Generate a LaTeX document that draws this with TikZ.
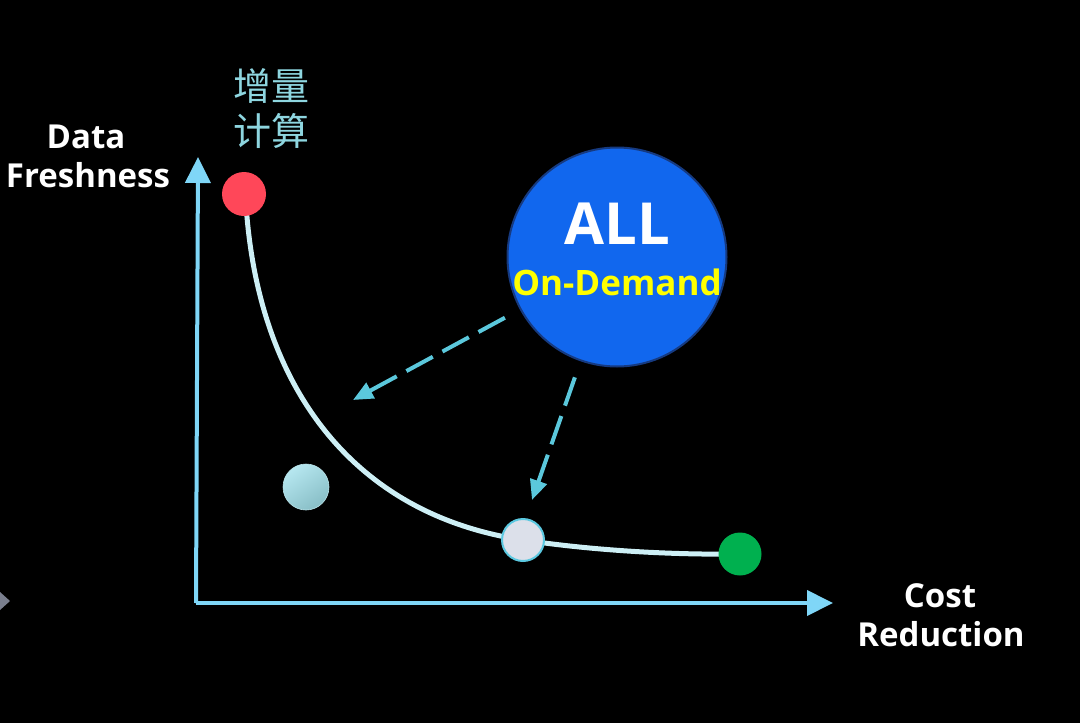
\documentclass[tikz,border=0pt]{standalone}
\usepackage{fontspec}
\setmainfont{Open Sans}
\newfontfamily\cjk{Noto Sans CJK SC}
\usetikzlibrary{arrows.meta}
\definecolor{axiscol}{HTML}{7FD6F7}
\definecolor{dashcol}{HTML}{5BC8DC}
\definecolor{curvecol}{HTML}{CDEFF5}
\definecolor{cjkcol}{HTML}{8ED6E0}
\definecolor{redball}{HTML}{FF4759}
\definecolor{greenball}{HTML}{00B04F}
\definecolor{greyball}{HTML}{DCE0EA}
\definecolor{greyedge}{HTML}{5BC8E0}
\definecolor{bigblue}{HTML}{1167EE}
\definecolor{bigedge}{HTML}{163A80}
\definecolor{ondemand}{HTML}{FFFF00}
\definecolor{tri}{HTML}{7A7F8E}
\definecolor{tealtop}{HTML}{B6E7F0}
\definecolor{tealbot}{HTML}{88BEC6}
\tikzset{
  axisline/.style={draw=axiscol, line width=4pt, -{Triangle[length=26pt,width=25pt]}},
  dasharrow/.style={draw=dashcol, line width=4pt, dash pattern=on 30pt off 11pt, -{Triangle[length=20pt,width=17pt]}},
  curveline/.style={draw=curvecol, line width=5pt},
  ball/.style={circle, inner sep=0pt, minimum size=44pt},
  wlabel/.style={text=white, font=\bfseries\fontsize{33}{40}\selectfont, anchor=base, inner sep=0pt},
  cjklabel/.style={text=cjkcol, font=\cjk\fontsize{38}{44}\selectfont, inner sep=0pt}
}
\begin{document}
\begin{tikzpicture}[x=1pt,y=-1pt]
\fill[black] (0,0) rectangle (1080,723);
\useasboundingbox (0,0) rectangle (1080,723);
% small grey triangle at left edge
\fill[tri] (0,592) -- (10,601) -- (0,610) -- cycle;
% axes
\coordinate (origin) at (198,603);
\coordinate (ytip) at (198,157);
\coordinate (xtip) at (833,603);
\draw[axisline] (196,603) -- (ytip);
\draw[axisline] (196,603) -- (xtip);
% curve positions
\coordinate (pR) at (245,196);
\coordinate (pW) at (523,540);
\coordinate (pG) at (740,554);
\draw[curveline] (pR) -- (247,217) .. controls (262,390) and (355,515) .. (pW) .. controls (593,550.4) and (670,555) .. (pG);
% balls
\node[ball, fill=redball] (red) at (244,194) {};
\node[ball, draw=greyedge, line width=2pt, fill=greyball, minimum size=42pt] (white) at (pW) {};
\node[ball, fill=greenball, minimum size=43pt] (green) at (pG) {};
\node[ball, draw=cjkcol!60!white, line width=0.6pt, top color=tealtop, bottom color=tealbot, shading angle=35, minimum size=46pt] (teal) at (306,487) {};
% big circle
\node[circle, fill=bigblue, draw=bigedge, line width=2pt, minimum size=219pt, inner sep=0pt] (big) at (617,257) {};
\node[text=white, font=\bfseries\fontsize{58}{60}\selectfont, anchor=base, inner sep=0pt] (all) at (617,244) {ALL};
\node[text=ondemand, font=\bfseries\fontsize{35}{40}\selectfont, anchor=base, inner sep=0pt] (od) at (617,295) {On-Demand};
% dashed arrows
\coordinate (t1) at (353,400);
\coordinate (t2) at (532,500);
\draw[dasharrow, shorten <=17pt] (big) -- (t1);
\draw[dasharrow, shorten <=17pt] (big) -- (t2);
% labels
\node[wlabel] (data) at (86,148) {Data};
\node[wlabel] (fresh) at (88,187) {Freshness};
\node[wlabel, font=\bfseries\fontsize{33}{40}\selectfont] (cost) at (940,607) {Cost};
\node[wlabel, font=\bfseries\fontsize{33}{40}\selectfont] (red2) at (941,646) {Reduction};
\node[cjklabel] (zl) at (271,86) {增量};
\node[cjklabel] (js) at (271,131) {计算};
\end{tikzpicture}
\end{document}
